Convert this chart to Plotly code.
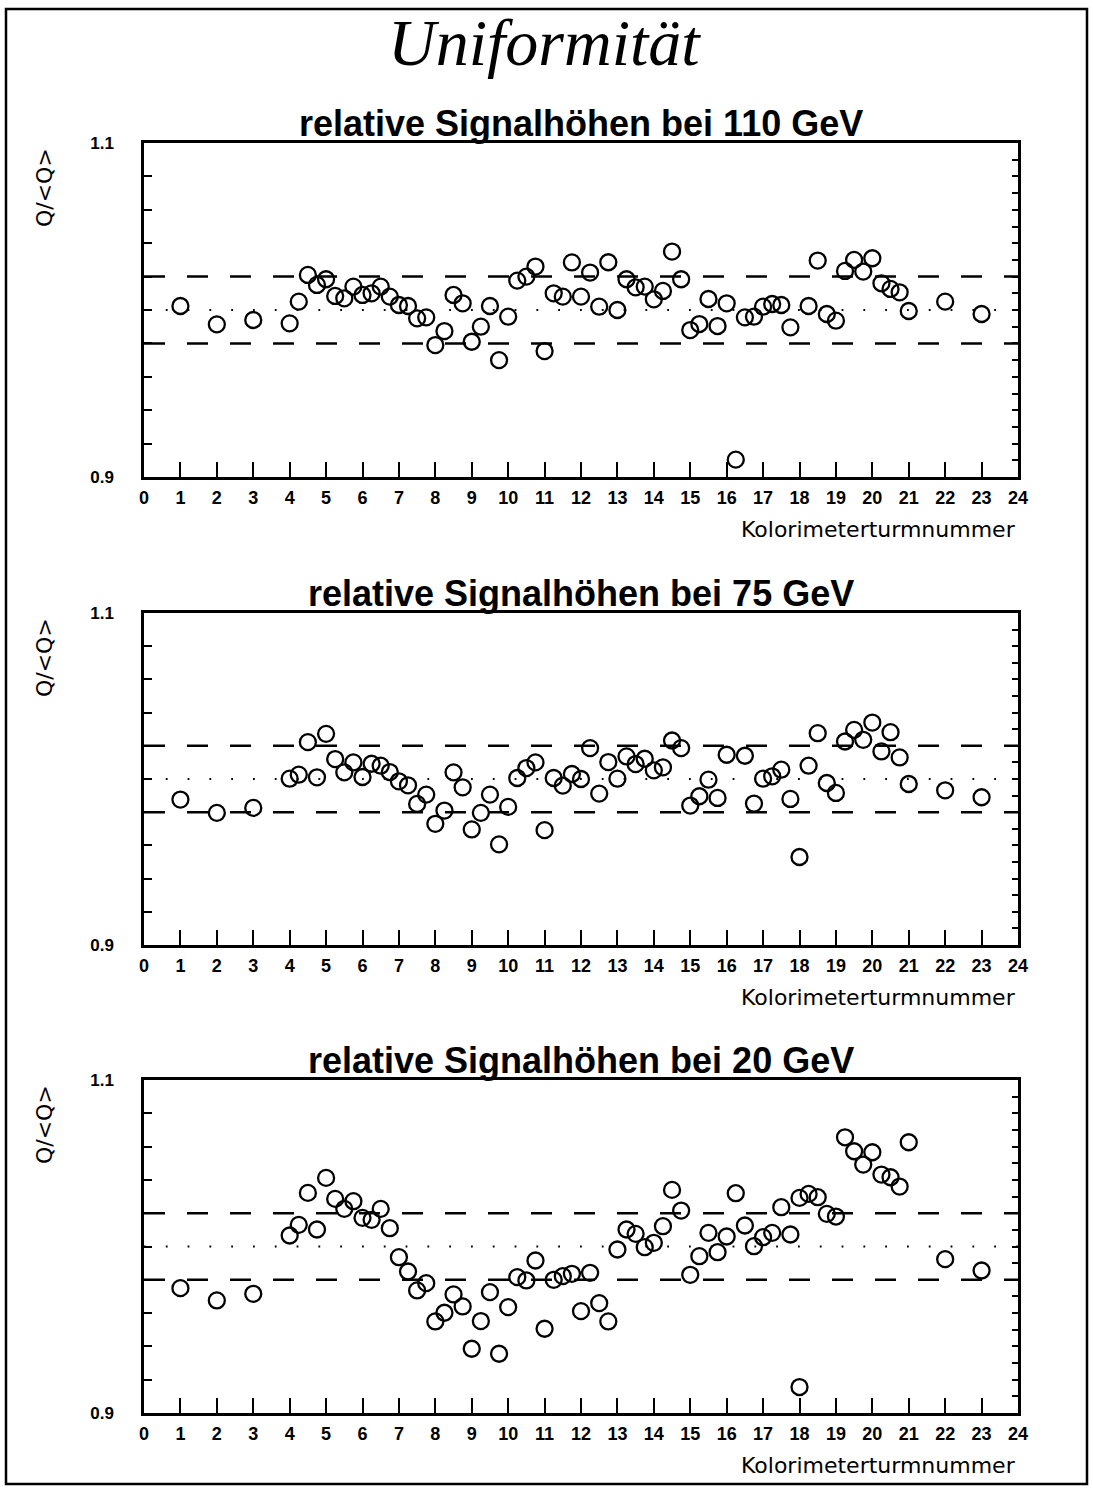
import plotly.graph_objects as go

# ---------------- data ----------------
turm = [1, 2, 3,
        4, 4.25, 4.5, 4.75, 5, 5.25, 5.5, 5.75, 6, 6.25, 6.5, 6.75, 7, 7.25, 7.5, 7.75,
        8, 8.25, 8.5, 8.75, 9, 9.25, 9.5, 9.75, 10, 10.25, 10.5, 10.75, 11, 11.25, 11.5, 11.75,
        12, 12.25, 12.5, 12.75, 13, 13.25, 13.5, 13.75, 14, 14.25, 14.5, 14.75, 15, 15.25, 15.5, 15.75,
        16, 16.25, 16.5, 16.75, 17, 17.25, 17.5, 17.75, 18, 18.25, 18.5, 18.75, 19, 19.25, 19.5, 19.75,
        20, 20.25, 20.5, 20.75, 21, 22, 23]

q110 = [1.0024, 0.9914, 0.9940,
        0.9920, 1.0050, 1.0210, 1.0150,
        1.0184, 1.0084, 1.0070, 1.0140,
        1.0090, 1.0100, 1.0140, 1.0080,
        1.0030, 1.0024, 0.9950, 0.9956,
        0.9790, 0.9874, 1.0090, 1.0040,
        0.9810, 0.9900, 1.0024, 0.9700,
        0.9960, 1.0176, 1.0200, 1.0260,
        0.9754, 1.0100, 1.0080, 1.0285,
        1.0080, 1.0224, 1.0020, 1.0286,
        1.0000, 1.0184, 1.0136, 1.0140,
        1.0064, 1.0114, 1.0350, 1.0184,
        0.9880, 0.9916, 1.0066, 0.9904,
        1.0040, 0.9104, 0.9956, 0.9960,
        1.0020, 1.0036, 1.0030, 0.9896,
        None, 1.0024, 1.0296, 0.9976,
        0.9936, 1.0234, 1.0300, 1.0230,
        1.0310, 1.0160, 1.0126, 1.0106,
        0.9994, 1.0050, 0.9976]

q75 = [0.9876, 0.9796, 0.9826,
       1.0002, 1.0026, 1.0222, 1.0010,
       1.0272, 1.0120, 1.0040, 1.0100,
       1.0012, 1.0092, 1.0080, 1.0042,
       0.9986, 0.9962, 0.9850, 0.9906,
       0.9730, 0.9810, 1.0040, 0.9950,
       0.9696, 0.9796, 0.9906, 0.9606,
       0.9832, 1.0006, 1.0066, 1.0100,
       0.9692, 1.0006, 0.9960, 1.0030,
       1.0000, 1.0186, 0.9912, 1.0102,
       1.0002, 1.0136, 1.0090, 1.0122,
       1.0052, 1.0070, 1.0232, 1.0186,
       0.9840, 0.9896, 0.9996, 0.9886,
       1.0146, None, 1.0140, 0.9852,
       1.0002, 1.0016, 1.0056, 0.9880,
       0.9530, 1.0080, 1.0276, 0.9976,
       0.9916, 1.0226, 1.0296, 1.0236,
       1.0340, 1.0166, 1.0282, 1.0130,
       0.9970, 0.9932, 0.9890]

q20 = [0.9750, 0.9676, 0.9716,
       1.0066, 1.0130, 1.0322, 1.0102,
       1.0412, 1.0286, 1.0226, 1.0272,
       1.0172, 1.0160, 1.0226, 1.0110,
       0.9936, 0.9850, 0.9736, 0.9780,
       0.9550, 0.9602, 0.9712, 0.9640,
       0.9386, 0.9552, 0.9726, 0.9356,
       0.9636, 0.9816, 0.9796, 0.9916,
       0.9506, 0.9800, 0.9822, 0.9836,
       0.9612, 0.9842, 0.9660, 0.9550,
       0.9982, 1.0102, 1.0076, 0.9996,
       1.0022, 1.0122, 1.0340, 1.0216,
       0.9830, 0.9942, 1.0082, 0.9966,
       1.0060, 1.0320, 1.0126, 1.0002,
       1.0056, 1.0082, 1.0236, 1.0072,
       1.0292, 1.0316, 1.0296, 1.0196,
       1.0180, 1.0656, 1.0572, 1.0492,
       1.0566, 1.0432, 1.0416, 1.0360,
       1.0626, 0.9924, 0.9856]

# additional (second) measurement at tower 18 in the 20 GeV run
q20_extra_x = [18]
q20_extra_y = [0.9156]

panels = [
    ("relative Signalhöhen bei 110 GeV", q110, [], []),
    ("relative Signalhöhen bei 75 GeV", q75, [], []),
    ("relative Signalhöhen bei 20 GeV", q20, q20_extra_x, q20_extra_y),
]

x_extent = [0, 24]
band_levels = [0.98, 1.02]
mean_level = 1.0
y_extent = [0.9, 1.1]
x_ticks = list(range(0, 25))
y_ticks_left = [0.9, 0.92, 0.94, 0.96, 0.98, 1.0, 1.02, 1.04, 1.06, 1.08, 1.1]
y_ticks_right = [0.9, 0.91, 0.92, 0.93, 0.94, 0.95, 0.96, 0.97, 0.98, 0.99, 1.0,
                 1.01, 1.02, 1.03, 1.04, 1.05, 1.06, 1.07, 1.08, 1.09, 1.1]

# ---------------- figure ----------------
W, H = 1093, 1488
ML, MR, MT, MB = 144, 75, 143, 75
plot_h = H - MT - MB
plot_w = W - ML - MR
# panel pixel extents (top, bottom)
panel_px = [(143, 477), (613, 945), (1080, 1413)]
domains = [[1 - (b - MT) / plot_h, 1 - (t - MT) / plot_h] for t, b in panel_px]

fig = go.Figure()
BOLD = "Liberation Sans"
marker = dict(symbol="circle-open", size=16, color="black", line=dict(width=2.3, color="black"))

annotations = []
for i, (title, vals, ex, ey) in enumerate(panels):
    n = i + 1
    xa = "x" if n == 1 else f"x{n}"
    ya = "y" if n == 1 else f"y{n}"
    yo = f"y{n + 3}"
    for lev in band_levels:
        fig.add_trace(go.Scatter(x=x_extent, y=[lev, lev], mode="lines", xaxis=xa, yaxis=ya,
                                 line=dict(color="black", width=2.5, dash="21px,22px"),
                                 showlegend=False, hoverinfo="skip"))
    fig.add_trace(go.Scatter(x=x_extent, y=[mean_level, mean_level], mode="lines", xaxis=xa, yaxis=yo,
                             line=dict(color="black", width=1.8, dash="1.8px,20px"),
                             showlegend=False, hoverinfo="skip"))
    fig.add_trace(go.Scatter(x=turm, y=vals, mode="markers", xaxis=xa, yaxis=ya, marker=marker,
                             showlegend=False))
    if ex:
        fig.add_trace(go.Scatter(x=ex, y=ey, mode="markers", xaxis=xa, yaxis=ya, marker=marker,
                                 showlegend=False))

    xkey = "xaxis" if n == 1 else f"xaxis{n}"
    ykey = "yaxis" if n == 1 else f"yaxis{n}"
    fig.layout[xkey] = dict(
        domain=[0, 1], anchor=ya, range=x_extent, tickmode="array", tickvals=x_ticks,
        ticktext=[str(v) for v in x_ticks], ticks="inside", ticklen=15, tickwidth=1.5,
        tickcolor="black", showline=True, linewidth=2.5, linecolor="black", mirror=True,
        showgrid=False, zeroline=False, ticklabelstandoff=3,
        tickfont=dict(family=BOLD, size=18, color="black", weight="bold"))
    fig.layout[ykey] = dict(
        domain=domains[i], anchor=xa, range=y_extent, tickmode="array", tickvals=y_ticks_left,
        ticktext=["0.9"] + [""] * (len(y_ticks_left) - 2) + ["1.1"],
        ticks="inside", ticklen=8, tickwidth=1.5, tickcolor="black",
        showline=True, linewidth=2.5, linecolor="black", mirror=True,
        showgrid=False, zeroline=False, ticklabelstandoff=24,
        tickfont=dict(family=BOLD, size=17, color="black", weight="bold"))
    fig.layout[f"yaxis{n + 3}"] = dict(
        overlaying=ya, side="right", anchor=xa, range=y_extent, tickmode="array",
        tickvals=y_ticks_right, showticklabels=False, ticks="inside", ticklen=6,
        tickwidth=1.5, tickcolor="black", showline=False, showgrid=False, zeroline=False)

    # subtitle
    annotations.append(dict(text=f"<b>{title}</b>", xref=f"{xa} domain", yref=f"{ya} domain",
                            x=0.5, y=1.0, xanchor="center", yanchor="bottom", yshift=-3,
                            showarrow=False, font=dict(family=BOLD, size=36, color="black")))
    # x axis title
    annotations.append(dict(text="Kolorimeterturmnummer", xref=f"{xa} domain", yref=f"{ya} domain",
                            x=1.0, y=-0.115, xanchor="right", yanchor="top", showarrow=False,
                            font=dict(family="DejaVu Sans", size=22, color="black")))
    # y axis title
    annotations.append(dict(text="Q/&lt;Q&gt;", xref=f"{xa} domain", yref=f"{ya} domain",
                            x=-0.113, y=0.99, xanchor="center", yanchor="top", textangle=-90,
                            showarrow=False, font=dict(family="DejaVu Sans", size=22, color="black")))

# main title
annotations.append(dict(text="<i>Uniformität</i>", xref="paper", yref="paper",
                        x=(544 - ML) / plot_w, y=1 + (143 - 42) / plot_h,
                        xanchor="center", yanchor="middle", showarrow=False,
                        font=dict(family="Liberation Serif", size=66, color="black")))

fig.update_layout(
    width=W, height=H, margin=dict(l=ML, r=MR, t=MT, b=MB),
    paper_bgcolor="white", plot_bgcolor="white", showlegend=False,
    annotations=annotations,
    shapes=[dict(type="rect", xref="paper", yref="paper",
                 x0=(6 - ML) / plot_w, x1=(1087 - ML) / plot_w,
                 y0=-(1484 - 1413) / plot_h, y1=1 + (143 - 9) / plot_h,
                 line=dict(color="black", width=2.5))],
)

fig.write_html("out.html", config={"displayModeBar": False},
               post_script="document.body.style.margin='0';")
